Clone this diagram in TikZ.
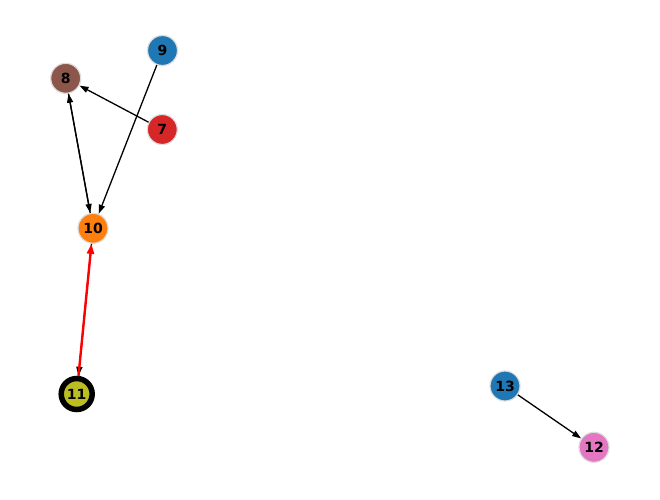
\documentclass[tikz,border=0pt]{standalone}
\usepackage{fontspec}
\setmainfont{DejaVu Sans}
\usetikzlibrary{arrows.meta}
\definecolor{tblue}{HTML}{1F77B4}
\definecolor{tbrown}{HTML}{8C564B}
\definecolor{tred}{HTML}{D62728}
\definecolor{torange}{HTML}{FF7F0E}
\definecolor{tolive}{HTML}{BCBD22}
\definecolor{tpink}{HTML}{E377C2}
\definecolor{rim}{HTML}{DDDDDD}
\tikzset{
  vtx/.style={circle, minimum size=30pt, inner sep=0pt, draw=rim, line width=1.2pt,
    font=\fontsize{14}{14}\selectfont\bfseries, text=black},
  hub/.style={circle, minimum size=31pt, inner sep=0pt, draw=black, line width=5.5pt,
    font=\fontsize{14}{14}\selectfont\bfseries, text=black},
  edge/.style={draw=black, line width=1.3pt, -{Triangle[length=9pt,width=6pt]}},
  redge/.style={draw=red, line width=2.4pt, -{Triangle[length=10pt,width=7pt]}}
}
\begin{document}
\begin{tikzpicture}[x=1pt,y=-1pt]
\useasboundingbox (0,0) rectangle (660,499);
\node[vtx, fill=tblue] (n9) at (162.5,50.5) {9};
\node[vtx, fill=tbrown] (n8) at (65.7,78.3) {8};
\node[vtx, fill=tred] (n7) at (162.3,129.5) {7};
\node[vtx, fill=torange] (n10) at (93,228.3) {10};
\node[hub, fill=tolive] (n11) at (76.7,394) {11};
\node[vtx, fill=tblue] (n13) at (505,386) {13};
\node[vtx, fill=tpink] (n12) at (594,447.3) {12};
\draw[edge] (n9) -- (n10);
\draw[edge] (n7) -- (n8);
\draw[edge] (n8) -- (n10);
\draw[edge] (n10) -- (n8);
\draw[edge] (n10) -- (n11);
\draw[redge] (n11) -- (n10);
\draw[edge] (n13) -- (n12);
\end{tikzpicture}
\end{document}
